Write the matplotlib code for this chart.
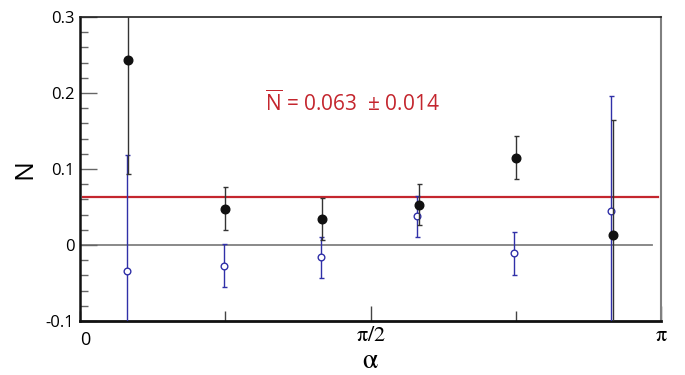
import numpy as np
import matplotlib
matplotlib.use("Agg")
import matplotlib.pyplot as plt
from matplotlib.ticker import FixedLocator, FixedFormatter, MultipleLocator

plt.rcParams['font.family'] = ['Open Sans', 'DejaVu Sans']
plt.rcParams['mathtext.fontset'] = 'stix'
plt.rcParams['mathtext.rm'] = 'Open Sans'

# data
alpha = np.array([1, 3, 5, 7, 9, 11]) * np.pi / 12
n_filled = [0.244, 0.048, 0.034, 0.053, 0.115, 0.013]
err_filled = [0.151, 0.0285, 0.0275, 0.027, 0.028, 0.151]
n_open = [-0.034, -0.027, -0.016, 0.038, -0.011, 0.045]
err_open = [0.152, 0.028, 0.027, 0.027, 0.028, 0.151]
mean_n = 0.063
mean_err = 0.014
xtick_pos = [np.pi / 2, np.pi]
xtick_labels = [r'$\mathrm{\pi/2}$', r'$\mathrm{\pi}$']
xminor_pos = [0, np.pi / 4, 3 * np.pi / 4]
xminor_labels = ['0', '', '']
ytick_pos = [-0.1, 0, 0.1, 0.2, 0.3]
ytick_labels = ['-0.1', '0', '0.1', '0.2', '0.3']

fig = plt.figure(figsize=(6.85, 3.75), dpi=100)
ax = fig.add_axes([80/685, 54/375, 581/685, 304/375])

ax.axhline(0, xmin=0, xmax=0.985, color='#808080', lw=1.3, zorder=1)
ax.axhline(mean_n, xmin=0.005, xmax=0.995, color='#c4262e', lw=1.6, zorder=2)

ax.errorbar(alpha - 0.008, n_open, yerr=err_open, fmt='o', ms=4.8, mfc='white',
            mec='#3030a8', mew=1.0, ecolor='#3030a8', elinewidth=1.0,
            capsize=1.8, capthick=1.0, zorder=3)
ax.errorbar(alpha, n_filled, yerr=err_filled, fmt='o', ms=6.2, mfc='#111111',
            mec='#111111', ecolor='#333333', elinewidth=1.0,
            capsize=1.8, capthick=1.0, zorder=4)

ax.text(1.0, 0.187, r'$\overline{\mathrm{N}}$' + ' = %.3f  ± %.3f' % (mean_n, mean_err),
        color='#c4262e', fontsize=15, ha='left', va='center', math_fontfamily='custom')

ax.set_xlim(0, np.pi)
ax.set_ylim(-0.1, 0.3)
ax.set_yticks(ytick_pos)
ax.set_yticklabels(ytick_labels)
ax.yaxis.set_minor_locator(MultipleLocator(0.02))
ax.xaxis.set_major_locator(FixedLocator(xtick_pos))
ax.xaxis.set_major_formatter(FixedFormatter(xtick_labels))
ax.xaxis.set_minor_locator(FixedLocator(xminor_pos))
ax.xaxis.set_minor_formatter(FixedFormatter(xminor_labels))

ax.tick_params(axis='y', which='major', direction='in', length=12, width=1.0,
               color='#666666', labelsize=12, pad=4)
ax.tick_params(axis='y', which='minor', direction='in', length=6, width=1.0,
               color='#666666')
ax.tick_params(axis='x', which='major', direction='in', length=11, width=1.0,
               color='#444444', labelsize=16, pad=3)
ax.tick_params(axis='x', which='minor', direction='in', length=7, width=1.0,
               color='#444444', labelsize=13, pad=7)
ax.tick_params(top=False, right=False, which='both')

for lab in ax.xaxis.get_minorticklabels():
    lab.set_horizontalalignment('left')

ax.spines['left'].set_linewidth(1.8)
ax.spines['bottom'].set_linewidth(2.0)
ax.spines['top'].set_linewidth(1.2)
ax.spines['right'].set_linewidth(1.5)
ax.spines['right'].set_color('#808080')
ax.spines['left'].set_color('#111111')
ax.spines['bottom'].set_color('#111111')
ax.spines['top'].set_color('#222222')

ax.set_xlabel(r'$\mathrm{\alpha}$', fontsize=20, labelpad=-1)
ax.set_ylabel('N', fontsize=19, labelpad=6)

fig.savefig('out.png', dpi=100)
